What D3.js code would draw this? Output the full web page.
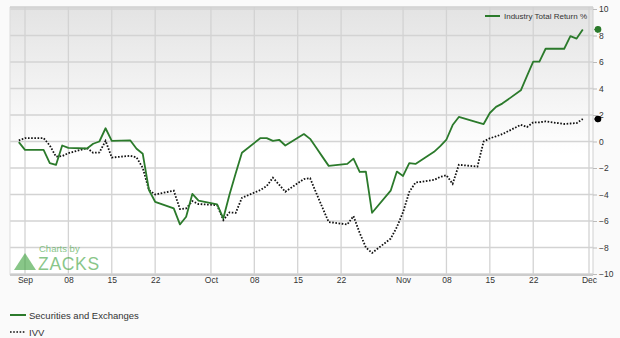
<!DOCTYPE html>
<html>
<head>
<meta charset="utf-8">
<script src="https://cdn.jsdelivr.net/npm/d3@7"></script>
<style>
  body { margin: 0; background: #fafafa; font-family: "Liberation Sans", Arial, sans-serif; }
  svg text { fill: #333; }
</style>
</head>
<body>
<div id="chart"></div>
<script>
// trading days (holidays carried forward as in the source chart)
const dates = [
  "2023-08-31", "2023-09-01", "2023-09-04", "2023-09-05", "2023-09-06", "2023-09-07", "2023-09-08",
  "2023-09-11", "2023-09-12", "2023-09-13", "2023-09-14", "2023-09-15",
  "2023-09-18", "2023-09-19", "2023-09-20", "2023-09-21", "2023-09-22",
  "2023-09-25", "2023-09-26", "2023-09-27", "2023-09-28", "2023-09-29",
  "2023-10-02", "2023-10-03", "2023-10-04", "2023-10-05", "2023-10-06",
  "2023-10-09", "2023-10-10", "2023-10-11", "2023-10-12", "2023-10-13",
  "2023-10-16", "2023-10-17", "2023-10-18", "2023-10-19", "2023-10-20",
  "2023-10-23", "2023-10-24", "2023-10-25", "2023-10-26", "2023-10-27",
  "2023-10-30", "2023-10-31", "2023-11-01", "2023-11-02", "2023-11-03",
  "2023-11-06", "2023-11-07", "2023-11-08", "2023-11-09", "2023-11-10",
  "2023-11-13", "2023-11-14", "2023-11-15", "2023-11-16", "2023-11-17",
  "2023-11-20", "2023-11-21", "2023-11-22", "2023-11-23", "2023-11-24",
  "2023-11-27", "2023-11-28", "2023-11-29", "2023-11-30"
];

const industry = [
  -0.05, -0.63, -0.63, -1.64, -1.77, -0.3, -0.48,
  -0.53, -0.17, 0.0, 1.0, 0.05,
  0.08, -0.55, -0.93, -3.66, -4.55,
  -5.05, -6.26, -5.68, -3.96, -4.47,
  -4.74, -5.8, -4.0, -2.4, -0.85,
  0.26, 0.26, 0.05, 0.13, -0.3,
  0.56, 0.2, -0.48, -1.16, -1.84,
  -1.69, -1.29, -2.3, -2.27, -5.38,
  -3.71, -2.27, -2.6, -1.64, -1.69,
  -0.78, -0.35, 0.15, 1.24, 1.85,
  1.45, 1.32, 2.15, 2.61, 2.86,
  3.86, 4.95, 6.03, 6.03, 7.0,
  7.0, 7.95, 7.77, 8.46
];

const ivv = [
  0.08, 0.26, 0.26, -0.3, -1.14, -1.1, -0.88,
  -0.5, -0.85, -0.83, 0.05, -1.21,
  -1.08, -1.2, -2.0, -3.66, -4.0,
  -3.71, -5.1, -5.05, -4.5, -4.72,
  -4.8, -5.93, -5.35, -5.38, -4.25,
  -3.66, -3.36, -2.73, -3.26, -3.79,
  -2.83, -2.77, -3.9, -5.0, -6.08,
  -6.26, -5.63, -6.9, -8.0, -8.41,
  -7.33, -6.46, -5.33, -3.81, -3.1,
  -2.9, -2.67, -2.55, -3.2, -1.76,
  -1.89, 0.0, 0.24, 0.39, 0.55,
  1.26, 1.09, 1.44, 1.45, 1.52,
  1.32, 1.36, 1.39, 1.7
];

const xTickDates = ["2023-09-01", "2023-09-08", "2023-09-15", "2023-09-22", "2023-10-01", "2023-10-08",
  "2023-10-15", "2023-10-22", "2023-11-01", "2023-11-08", "2023-11-15", "2023-11-22", "2023-12-01"];
const xTickLabels = ["Sep", "08", "15", "22", "Oct", "08", "15", "22", "Nov", "08", "15", "22", "Dec"];
const yTicks = [-10, -8, -6, -4, -2, 0, 2, 4, 6, 8, 10];

const seriesNames = ["Securities and Exchanges", "IVV"];
const topLegendLabel = "Industry Total Return %";

const w = 620, h = 338;
const plotLeft = 10, plotRight = 593, plotTop = 7, plotBottom = 275;
const green = "#2b7a2b";

const parse = d3.timeParse("%Y-%m-%d");

const svg = d3.select("#chart").append("svg")
  .attr("width", w)
  .attr("height", h);

const x = d3.scaleTime()
  .domain([parse("2023-09-01"), parse("2023-12-01")])
  .range([25, 589]);

const y = d3.scaleLinear()
  .domain([-10, 10])
  .range([274, 9]);

// plot background gradient
const defs = svg.append("defs");
const grad = defs.append("linearGradient")
  .attr("id", "bg").attr("x1", 0).attr("y1", 0).attr("x2", 0).attr("y2", 1);
grad.append("stop").attr("offset", "0%").attr("stop-color", "#e3e3e3");
grad.append("stop").attr("offset", "55%").attr("stop-color", "#ffffff");
grad.append("stop").attr("offset", "100%").attr("stop-color", "#ffffff");

svg.append("rect")
  .attr("x", plotLeft).attr("y", plotTop)
  .attr("width", plotRight - plotLeft).attr("height", plotBottom - plotTop)
  .attr("fill", "url(#bg)");

// grid
svg.append("g").selectAll("line")
  .data(yTicks)
  .enter().append("line")
  .attr("x1", plotLeft).attr("x2", plotRight)
  .attr("y1", d => y(d)).attr("y2", d => y(d))
  .attr("stroke", "#d3d3d3").attr("stroke-width", 1.3);

svg.append("g").selectAll("line")
  .data(xTickDates)
  .enter().append("line")
  .attr("x1", d => x(parse(d))).attr("x2", d => x(parse(d)))
  .attr("y1", plotTop).attr("y2", plotBottom)
  .attr("stroke", "#d3d3d3").attr("stroke-width", 1.3);

// borders
svg.append("line").attr("x1", plotLeft).attr("x2", plotLeft).attr("y1", plotTop).attr("y2", plotBottom)
  .attr("stroke", "#dcdcdc");
svg.append("line").attr("x1", plotRight).attr("x2", plotRight).attr("y1", plotTop).attr("y2", plotBottom)
  .attr("stroke", "#d0d0d0");
svg.append("line").attr("x1", plotLeft).attr("x2", plotRight).attr("y1", plotTop).attr("y2", plotTop)
  .attr("stroke", "#cfcfcf").attr("stroke-width", 1.5);
svg.append("line").attr("x1", plotLeft).attr("x2", plotRight).attr("y1", plotBottom).attr("y2", plotBottom)
  .attr("stroke", "#cccccc").attr("stroke-width", 2);

// zacks watermark
const logo = svg.append("g").attr("opacity", 0.6);
logo.append("path")
  .attr("d", "M25,253 L36,270 L14,270 Z")
  .attr("fill", "#3aa13a");
logo.append("text")
  .attr("x", 39).attr("y", 251.5)
  .attr("font-size", "9.5px")
  .style("fill", "#3aa13a")
  .text("Charts by");
logo.append("text")
  .attr("x", 38).attr("y", 270)
  .attr("font-size", "17.5px")
  .attr("letter-spacing", "0.7px")
  .style("fill", "#3aa13a")
  .text("ZACKS");

// axes
const xAxis = d3.axisBottom(x)
  .tickValues(xTickDates.map(parse))
  .tickSize(0)
  .tickPadding(0)
  .tickFormat((d, i) => xTickLabels[i]);

const gx = svg.append("g")
  .attr("transform", `translate(0, ${plotBottom + 2})`)
  .call(xAxis);
gx.select(".domain").remove();
gx.selectAll("text").attr("font-size", "8.5px").attr("font-family", "Liberation Sans, Arial, sans-serif").style("fill", "#333");

const yAxis = d3.axisRight(y)
  .tickValues(yTicks)
  .tickSize(4)
  .tickPadding(2)
  .tickFormat(d3.format("d"));

const gy = svg.append("g")
  .attr("transform", `translate(${plotRight}, 0)`)
  .call(yAxis);
gy.select(".domain").remove();
gy.selectAll("line").attr("stroke", "#bbb");
gy.selectAll("text").attr("font-size", "8.5px").attr("font-family", "Liberation Sans, Arial, sans-serif").style("fill", "#333");

// lines
const line = vals => d3.line()
  .x((d, i) => x(parse(dates[i])))
  .y(d => y(d))(vals);

svg.append("path")
  .attr("d", line(ivv))
  .attr("fill", "none")
  .attr("stroke", "#111")
  .attr("stroke-width", 1.8)
  .attr("stroke-dasharray", "1.6,1.6");

svg.append("path")
  .attr("d", line(industry))
  .attr("fill", "none")
  .attr("stroke", green)
  .attr("stroke-width", 1.8)
  .attr("stroke-linejoin", "round");

// last value markers on the right
const marker = (v, color) => {
  const my = y(v);
  svg.append("path")
    .attr("d", `M${plotRight + 1},${my} L${plotRight + 5},${my - 3.5} L${plotRight + 5},${my + 3.5} Z`)
    .attr("fill", color);
  svg.append("circle")
    .attr("cx", plotRight + 5).attr("cy", my).attr("r", 3.3)
    .attr("fill", color);
};
marker(industry[industry.length - 1], green);
marker(ivv[ivv.length - 1], "#000");

// top legend
svg.append("line")
  .attr("x1", 485).attr("x2", 500).attr("y1", 16).attr("y2", 16)
  .attr("stroke", green).attr("stroke-width", 2);
svg.append("text")
  .attr("x", 504).attr("y", 19)
  .attr("font-size", "8px")
  .text(topLegendLabel);

// bottom legend
const leg = svg.append("g");
leg.append("line")
  .attr("x1", 10).attr("x2", 26).attr("y1", 315).attr("y2", 315)
  .attr("stroke", green).attr("stroke-width", 2);
leg.append("text")
  .attr("x", 29).attr("y", 318.5)
  .attr("font-size", "9.5px")
  .text(seriesNames[0]);
leg.append("line")
  .attr("x1", 10).attr("x2", 25).attr("y1", 332).attr("y2", 332)
  .attr("stroke", "#111").attr("stroke-width", 1.6)
  .attr("stroke-dasharray", "1.6,1.6");
leg.append("text")
  .attr("x", 29).attr("y", 335.5)
  .attr("font-size", "9.5px")
  .text(seriesNames[1]);
</script>
</body>
</html>
